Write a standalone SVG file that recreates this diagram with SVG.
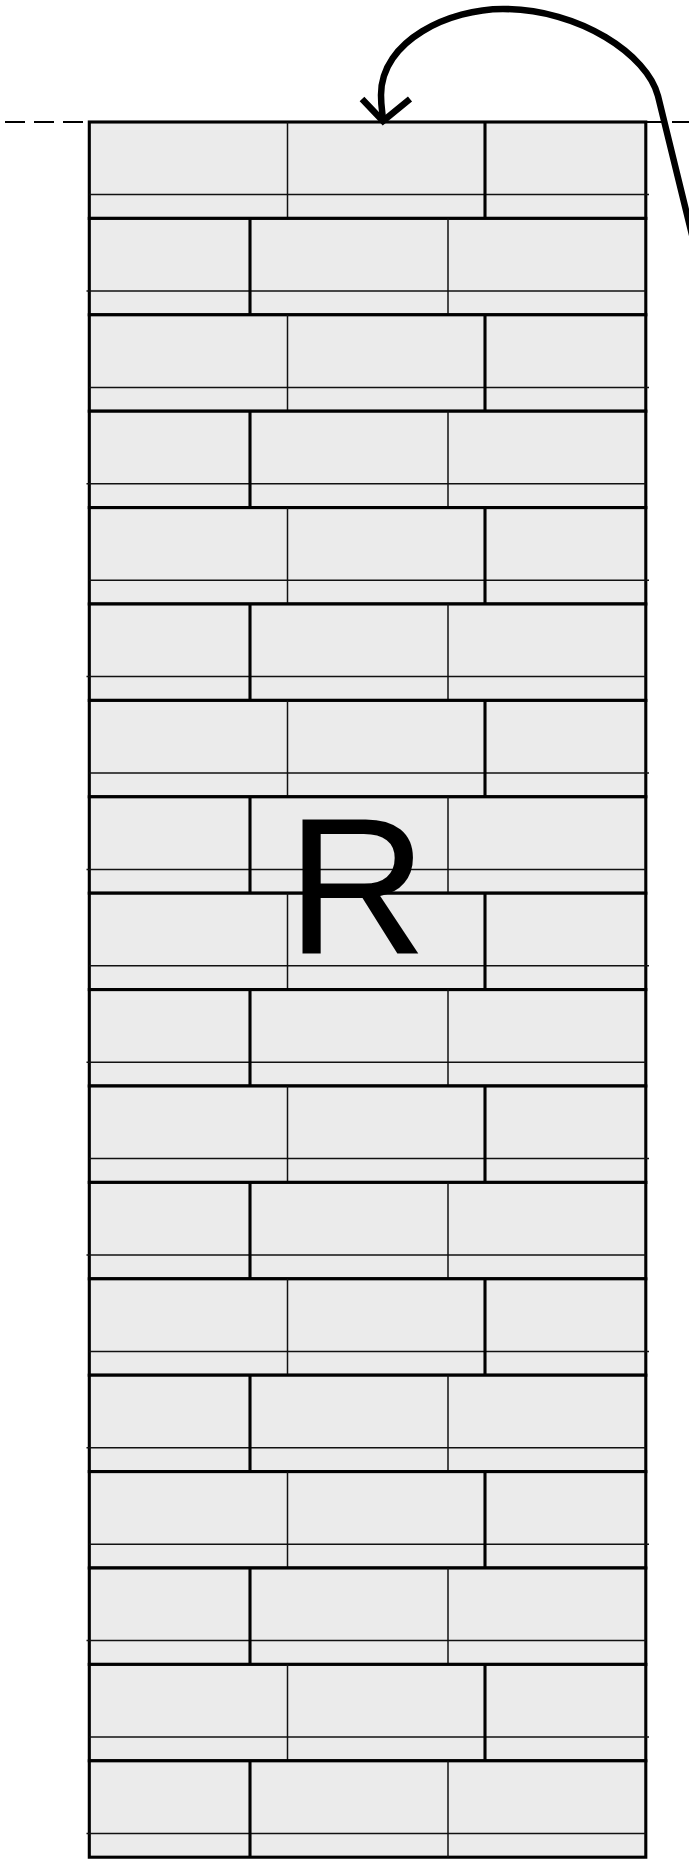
<svg xmlns="http://www.w3.org/2000/svg" xmlns:xlink="http://www.w3.org/1999/xlink" width="689" height="1860" viewBox="0 0 689 1860">
  <style>
    .brick { fill: #ebebeb; stroke: #000; stroke-width: 3.1; }
    .thin { stroke: #111; stroke-width: 1.5; fill: none; }
    .thick { stroke: #000; stroke-width: 3.1; fill: none; }
    .guide { stroke: #000; stroke-width: 1.8; stroke-dasharray: 20 9; fill: none; }
    .conn { stroke: #000; stroke-width: 6.5; fill: none; stroke-linecap: butt; stroke-linejoin: miter; }
    .label { font-family: "Liberation Sans", Arial, sans-serif; font-size: 195px; fill: #000; }
  </style>
  <defs>
    <g id="rowA">
      <rect class="brick" x="89.3" y="0" width="556.5" height="96.4"/>
      <line class="thin" x1="89.3" y1="72.6" x2="649" y2="72.6"/>
      <line class="thin" x1="287.5" y1="0" x2="287.5" y2="96.4"/>
      <line class="thick" x1="485" y1="0" x2="485" y2="96.4"/>
    </g>
    <g id="rowB">
      <rect class="brick" x="89.3" y="0" width="556.5" height="96.4"/>
      <line class="thin" x1="86.5" y1="72.6" x2="645.8" y2="72.6"/>
      <line class="thick" x1="250" y1="0" x2="250" y2="96.4"/>
      <line class="thin" x1="448" y1="0" x2="448" y2="96.4"/>
    </g>
  </defs>
  <rect x="0" y="0" width="689" height="1860" fill="#fff"/>
  <g id="guide-line">
    <line class="guide" x1="5" y1="122" x2="689" y2="122"/>
  </g>
  <g id="wall">
    <g id="row-01"><use xlink:href="#rowA" href="#rowA" transform="translate(0,122)"/></g>
    <g id="row-02"><use xlink:href="#rowB" href="#rowB" transform="translate(0,218.4)"/></g>
    <g id="row-03"><use xlink:href="#rowA" href="#rowA" transform="translate(0,314.8)"/></g>
    <g id="row-04"><use xlink:href="#rowB" href="#rowB" transform="translate(0,411.2)"/></g>
    <g id="row-05"><use xlink:href="#rowA" href="#rowA" transform="translate(0,507.6)"/></g>
    <g id="row-06"><use xlink:href="#rowB" href="#rowB" transform="translate(0,604)"/></g>
    <g id="row-07"><use xlink:href="#rowA" href="#rowA" transform="translate(0,700.4)"/></g>
    <g id="row-08"><use xlink:href="#rowB" href="#rowB" transform="translate(0,796.8)"/></g>
    <g id="row-09"><use xlink:href="#rowA" href="#rowA" transform="translate(0,893.2)"/></g>
    <g id="row-10"><use xlink:href="#rowB" href="#rowB" transform="translate(0,989.6)"/></g>
    <g id="row-11"><use xlink:href="#rowA" href="#rowA" transform="translate(0,1086)"/></g>
    <g id="row-12"><use xlink:href="#rowB" href="#rowB" transform="translate(0,1182.4)"/></g>
    <g id="row-13"><use xlink:href="#rowA" href="#rowA" transform="translate(0,1278.8)"/></g>
    <g id="row-14"><use xlink:href="#rowB" href="#rowB" transform="translate(0,1375.2)"/></g>
    <g id="row-15"><use xlink:href="#rowA" href="#rowA" transform="translate(0,1471.6)"/></g>
    <g id="row-16"><use xlink:href="#rowB" href="#rowB" transform="translate(0,1568)"/></g>
    <g id="row-17"><use xlink:href="#rowA" href="#rowA" transform="translate(0,1664.4)"/></g>
    <g id="row-18"><use xlink:href="#rowB" href="#rowB" transform="translate(0,1760.8)"/></g>
  </g>
  <g id="label-R">
    <text class="label" x="286.5" y="954">R</text>
  </g>
  <g id="connectors">
    <path class="conn" d="M 694.5 245 L 658 96 C 647.5 55 580 9 503 9 C 450 9 381 40 381 95 C 381 108 383 115 383 121"/>
    <polyline class="conn" points="362,99 383,121 410,99"/>
  </g>
</svg>
